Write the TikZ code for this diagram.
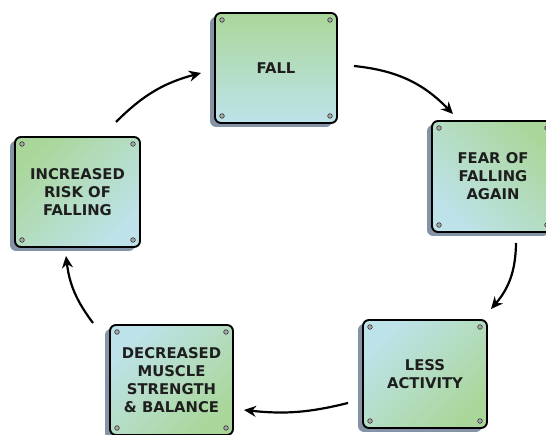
\documentclass[tikz,border=0pt]{standalone}
\usepackage{fontspec}
\setmainfont{DejaVu Sans}
\usetikzlibrary{calc,arrows.meta}
\definecolor{boxgreen}{HTML}{A9D79A}
\definecolor{boxblue}{HTML}{BEE2EA}
\definecolor{shadowc}{HTML}{8494A6}
\definecolor{txt}{HTML}{1E1E1E}
\tikzset{
  card/.style={minimum width=#1, draw=black, line width=1.9pt, rounded corners=6pt,
    align=center, font=\bfseries\fontsize{14.8}{18}\selectfont, text=txt,
    inner sep=0pt},
  flow/.style={line width=2.2pt, -{Stealth[length=12pt,width=11pt]}},
  screw/.style={draw=black!80, fill=black!35, line width=0.6pt},
}
\newcommand{\mkcard}[7]{%
  % #1 name, #2 x, #3 y, #4 w, #5 h, #6 angle, #7 text
  \fill[shadowc, rounded corners=6pt] ($(#2,#3)+(-0.5*#4-5,-0.5*#5-4)$) rectangle ($(#2,#3)+(0.5*#4-5,0.5*#5-4)$);
  \node[card=#4pt, minimum height=#5pt, top color=boxgreen, bottom color=boxblue, shading angle=#6] (#1) at (#2,#3) {#7};
  \foreach \dx/\dy in {7/-7,-7/-7,7/7,-7/7}{
    \pgfmathsetmacro{\sx}{(\dx>0?-0.5:0.5)*#4+\dx}
    \pgfmathsetmacro{\sy}{(\dy>0?-0.5:0.5)*#5+\dy}
    \draw[screw] ($(#2,#3)+(\sx,\sy)$) circle (2.3pt);
  }
}
\begin{document}
\begin{tikzpicture}[x=1pt,y=1pt]
\useasboundingbox (0,0) rectangle (546,435);
\clip (0,0) rectangle (546,435);
\mkcard{fall}{276}{367}{122}{110}{0}{FALL}
\mkcard{fear}{493}{258.5}{122}{111}{-45}{FEAR OF\\FALLING\\AGAIN}
\mkcard{risk}{77.5}{243}{125}{110}{45}{INCREASED\\RISK OF\\FALLING}
\mkcard{muscle}{171.5}{55}{123}{110}{-135}{DECREASED\\MUSCLE\\STRENGTH\\\& BALANCE}
\mkcard{less}{425}{61}{124}{108}{-135}{LESS\\ACTIVITY}
\coordinate (a1s) at (354,369);
\coordinate (a1e) at (453,321);
\coordinate (a2s) at (516,192);
\coordinate (a2e) at (491,126);
\coordinate (a3s) at (348,32);
\coordinate (a3e) at (244,25);
\coordinate (a4s) at (93,112);
\coordinate (a4e) at (66,179);
\coordinate (a5s) at (116,313);
\coordinate (a5e) at (201,362);
\draw[flow] (a1s) to[bend left=20] (a1e);
\draw[flow] (a2s) to[bend left=20] (a2e);
\draw[flow] (a3s) to[bend left=10] (a3e);
\draw[flow] (a4s) to[bend left=15] (a4e);
\draw[flow] (a5s) to[bend left=15] (a5e);
\end{tikzpicture}
\end{document}
